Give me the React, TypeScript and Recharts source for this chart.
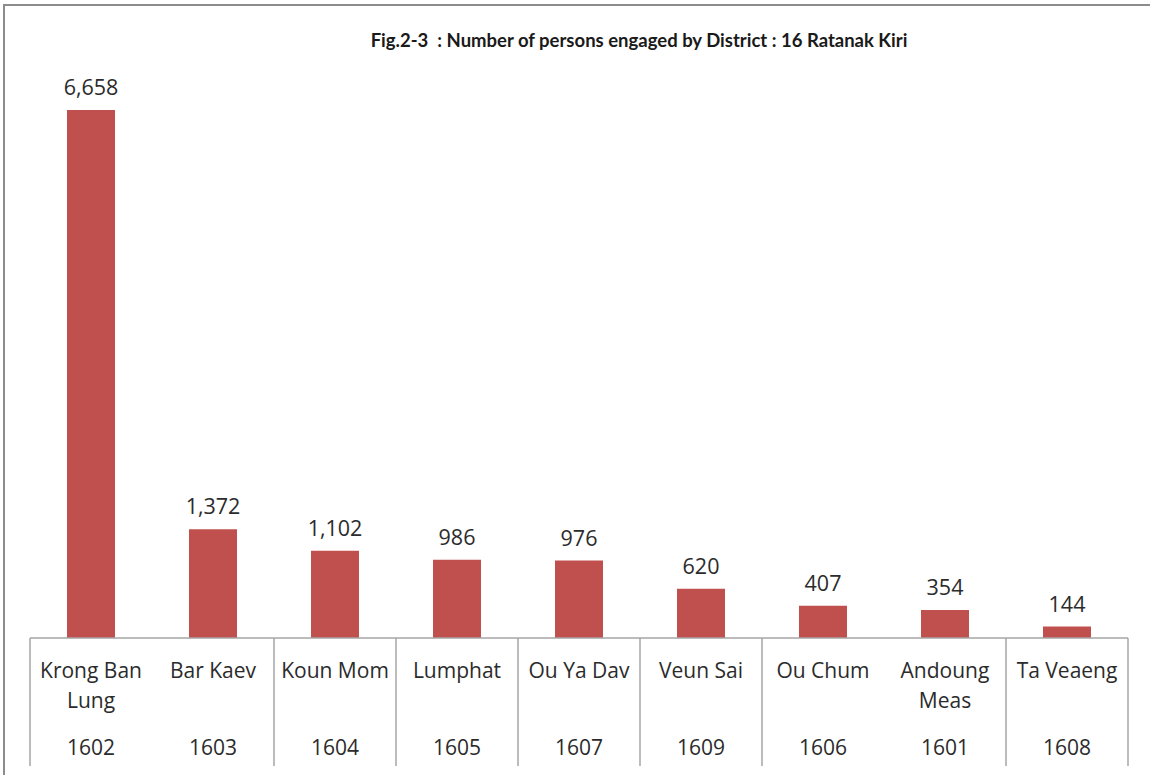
import React from "react";
import { BarChart, Bar, XAxis, YAxis, LabelList } from "recharts";

const districts = [
  "Krong Ban Lung",
  "Bar Kaev",
  "Koun Mom",
  "Lumphat",
  "Ou Ya Dav",
  "Veun Sai",
  "Ou Chum",
  "Andoung Meas",
  "Ta Veaeng",
];
const codes = ["1602", "1603", "1604", "1605", "1607", "1609", "1606", "1601", "1608"];
const persons = [6658, 1372, 1102, 986, 976, 620, 407, 354, 144];
// category boundaries (left edge) where the table draws a divider
const dividerBefore = [true, false, true, true, true, true, true, false, true];

const data = districts.map((name, i) => ({ name, code: codes[i], value: persons[i] }));

const W = 1150;
const H = 775;
const M = { top: 83, right: 22, bottom: 7, left: 30 };
const AXIS_H = 130;
const PLOT_W = W - M.left - M.right;
const BAND = PLOT_W / data.length;
const FONT = "'Open Sans', Lato, sans-serif";
const TITLE_FONT = "Lato, 'Open Sans', sans-serif";

function wrap(s: string): string[] {
  if (s.length <= 10) return [s];
  const k = s.lastIndexOf(" ");
  return [s.slice(0, k), s.slice(k + 1)];
}

const Tick = (props: any) => {
  const { x, y, payload, index } = props;
  const lines = wrap(payload.value);
  const code = codes[index];
  const left = x - BAND / 2;
  const right = x + BAND / 2;
  return (
    <g>
      {dividerBefore[index] && (
        <line x1={left} x2={left} y1={y} y2={y + 128} stroke="#a6a6a6" strokeWidth={1.5} />
      )}
      {index === data.length - 1 && (
        <line x1={right} x2={right} y1={y} y2={y + 128} stroke="#a6a6a6" strokeWidth={1.5} />
      )}
      {lines.map((l, i) => (
        <text
          key={i}
          x={x}
          y={y + 40 + i * 30}
          textAnchor="middle"
          fontSize={21}
          fill="#2b2b2b"
          fontFamily={FONT}
        >
          {l}
        </text>
      ))}
      <text x={x} y={y + 117} textAnchor="middle" fontSize={21} fill="#2b2b2b" fontFamily={FONT}>
        {code}
      </text>
    </g>
  );
};

export default function App() {
  return (
    <div style={{ position: "absolute", left: 0, top: 0, width: W, height: H, background: "#fff" }}>
      <div
        style={{
          position: "absolute",
          left: 3,
          top: 4,
          width: W - 3,
          height: H - 4,
          borderLeft: "2px solid #8c8c8c",
          borderTop: "2px solid #8c8c8c",
          boxSizing: "border-box",
        }}
      />
      <div
        style={{
          position: "absolute",
          left: 300,
          top: 29,
          width: 678,
          textAlign: "center",
          fontFamily: TITLE_FONT,
          fontWeight: 700,
          fontSize: 18.5,
          color: "#1a1a1a",
          whiteSpace: "nowrap",
        }}
      >
        Fig.2-3 &nbsp;: Number of persons engaged by District : 16 Ratanak Kiri
      </div>
      <div style={{ position: "absolute", left: 0, top: 0 }}>
        <BarChart width={W} height={H} data={data} margin={M}>
          <XAxis
            dataKey="name"
            height={AXIS_H}
            axisLine={{ stroke: "#a6a6a6", strokeWidth: 1.5 }}
            tickLine={false}
            tickSize={0}
            tickMargin={0}
            interval={0}
            tick={<Tick />}
          />
          <YAxis hide domain={[0, 7000]} />
          <Bar dataKey="value" fill="#C0504D" barSize={48} isAnimationActive={false}>
            <LabelList
              dataKey="value"
              position="top"
              offset={15}
              formatter={(v: any) => Number(v).toLocaleString("en-US")}
              style={{ fontSize: 21.5, fill: "#2b2b2b", fontFamily: FONT }}
            />
          </Bar>
        </BarChart>
      </div>
    </div>
  );
}
